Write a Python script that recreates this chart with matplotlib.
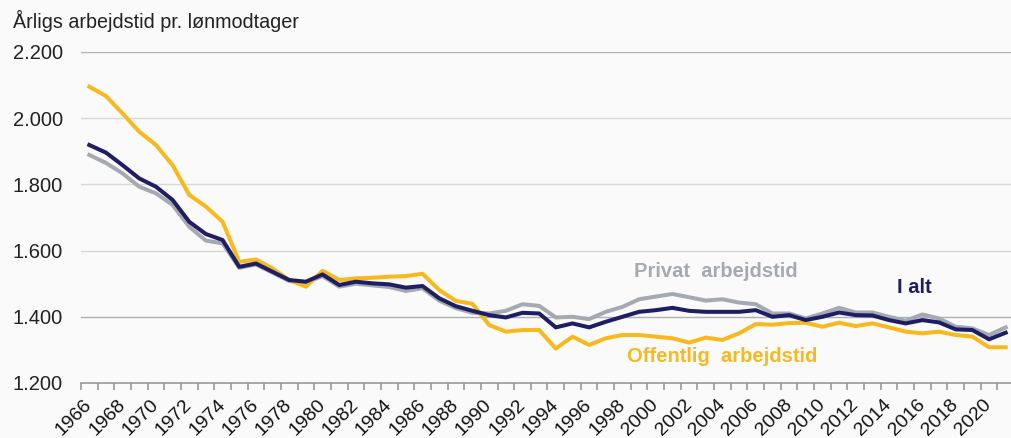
import matplotlib.pyplot as plt
import numpy as np

plt.rcParams['font.family'] = ['Liberation Sans', 'DejaVu Sans']

years = list(range(1966, 2022))

# Offentlig arbejdstid
offentlig = [2095, 2067, 2014, 1959, 1919, 1858, 1768, 1733, 1687, 1566,
             1573, 1546, 1511, 1491, 1539, 1511, 1516, 1518, 1521, 1523,
             1530, 1481, 1448, 1439, 1375, 1355, 1360, 1360, 1304, 1340,
             1315, 1335, 1345, 1345, 1340, 1335, 1322, 1337, 1330, 1350,
             1378, 1376, 1381, 1382, 1370, 1382, 1372, 1380, 1368, 1355,
             1350, 1355, 1345, 1340, 1308, 1308]

# I alt
i_alt = [1919, 1896, 1858, 1818, 1793, 1753, 1687, 1650, 1632, 1551,
         1561, 1536, 1511, 1506, 1528, 1496, 1506, 1501, 1498, 1488,
         1493, 1456, 1432, 1418, 1405, 1398, 1412, 1410, 1368, 1380,
         1368, 1385, 1400, 1415, 1420, 1427, 1418, 1415, 1415, 1415,
         1420, 1400, 1405, 1390, 1400, 1413, 1405, 1404, 1390, 1380,
         1390, 1383, 1362, 1360, 1332, 1352]

# Privat arbejdstid
privat = [1889, 1865, 1833, 1793, 1773, 1738, 1672, 1630, 1622, 1548,
          1558, 1533, 1508, 1503, 1523, 1491, 1500, 1495, 1490, 1478,
          1486, 1449, 1426, 1412, 1410, 1418, 1438, 1433, 1398, 1400,
          1393, 1415, 1430, 1453, 1461, 1469, 1459, 1449, 1453, 1443,
          1438, 1410, 1410, 1395, 1410, 1427, 1413, 1413, 1400, 1388,
          1407, 1395, 1370, 1365, 1345, 1368]

yticks = [1200, 1400, 1600, 1800, 2000, 2200]
ytick_labels = ['1.200', '1.400', '1.600', '1.800', '2.000', '2.200']

c_off = '#F9B91E'
c_alt = '#1E1E64'
c_priv = '#A5AAB2'

fig = plt.figure(figsize=(10.12, 4.38), dpi=100)
fig.patch.set_facecolor('#fafafa')
ax = fig.add_axes([0.080, 0.1256, 0.922, 0.7557])
ax.set_facecolor('#fafafa')

# gridlines
for v in yticks[1:]:
    col = '#b0b0b0' if v in (1400, 2200) else '#d8d8d8'
    ax.axhline(v, color=col, lw=1, zorder=1)

ax.plot(years, privat, color=c_priv, lw=2.9, zorder=3, solid_joinstyle='round')
ax.plot(years, offentlig, color=c_off, lw=2.9, zorder=4, solid_joinstyle='round')
ax.plot(years, i_alt, color=c_alt, lw=2.9, zorder=5, solid_joinstyle='round')

ax.set_xlim(1965.5, 2021.5)
ax.set_ylim(1200, 2200)

for s in ['top', 'right', 'left']:
    ax.spines[s].set_visible(False)
ax.spines['bottom'].set_color('#999999')
ax.spines['bottom'].set_linewidth(1.2)

ax.set_yticks(yticks)
ax.set_yticklabels(ytick_labels, fontsize=14.5, color='#222222')
ax.tick_params(axis='y', length=0, pad=13)

ax.set_xticks(years[::2])
ax.set_xticklabels([str(y) for y in years[::2]], rotation=45, ha='right',
                   va='center', rotation_mode='anchor', fontsize=14, color='#111111')
ax.set_xticks(np.arange(1965.5, 2022, 1), minor=True)
ax.tick_params(axis='x', which='major', length=0, pad=14)
ax.tick_params(axis='x', which='minor', length=5, color='#999999', width=1.2)

fig.text(0.013, 0.953, 'Årligs arbejdstid pr. lønmodtager', fontsize=14.2,
         color='#222222', ha='left', va='center')

ax.text(2003.6, 1521, 'Privat  arbejdstid', color=c_priv, fontsize=14.5,
        fontweight='bold', ha='center', va='baseline')
ax.text(2015.5, 1472, 'I alt', color=c_alt, fontsize=14.5,
        fontweight='bold', ha='center', va='baseline')
ax.text(2004.0, 1263, 'Offentlig  arbejdstid', color=c_off, fontsize=14.5,
        fontweight='bold', ha='center', va='baseline')

fig.savefig('out.png', dpi=100, facecolor=fig.get_facecolor())
